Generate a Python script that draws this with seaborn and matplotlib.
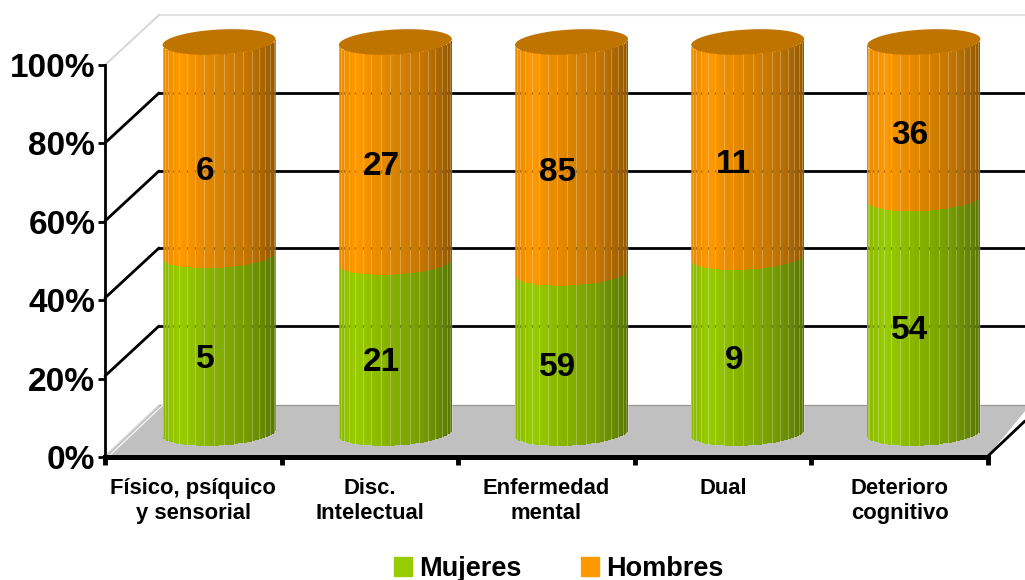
import numpy as np
import pandas as pd
import matplotlib.pyplot as plt
from matplotlib.patches import Patch, Polygon
import seaborn as sns

# Data
categories = ["Físico, psíquico\ny sensorial", "Disc.\nIntelectual", "Enfermedad\nmental", "Dual", "Deterioro\ncognitivo"]
mujeres = [5, 21, 59, 9, 54]
hombres = [6, 27, 85, 11, 36]
y_ticks = [0, 20, 40, 60, 80, 100]
y_tick_labels = ["0%", "20%", "40%", "60%", "80%", "100%"]

GREEN = np.array([0x99, 0xCC, 0x00]) / 255
ORANGE = np.array([0xFF, 0x99, 0x00]) / 255
W, H = 1025, 580

sns.set_theme(style="white")
plt.rcParams["font.family"] = ["Liberation Sans", "DejaVu Sans"]
plt.rcParams["font.weight"] = "bold"

df = pd.DataFrame({"cat": categories, "m": mujeres, "h": hombres})
df["pct_m"] = df["m"] / (df["m"] + df["h"]) * 100
df["total"] = 100.0


def axes_from_px(fig, x0, x1, y_bottom, y_top, **kw):
    return fig.add_axes([x0 / W, 1 - y_bottom / H, (x1 - x0) / W, (y_bottom - y_top) / H], **kw)


fig = plt.figure(figsize=(W / 100, H / 100), dpi=100)

# Back wall, floor and the slanted lines, in pixel coordinates
bg = fig.add_axes([0, 0, 1, 1], zorder=0)
bg.set_xlim(0, W)
bg.set_ylim(H, 0)
bg.axis("off")
bg.add_patch(Polygon([(105, 456), (159, 405), (1030, 405), (988, 456)], color="#C0C0C0", lw=0))
bg.plot([159, 1025], [405, 405], color="#9a9a9a", lw=1)
bg.plot([159, 1025], [15, 15], color="#E2E2E2", lw=1.5)
bg.plot([105, 159], [65, 15], color="#D8D8D8", lw=1.5)
bg.plot([109, 163], [456, 405], color="#FFFFFF", lw=0.8)
bg.plot([105, 159], [456, 405], color="#D8D8D8", lw=1)
for y in [93, 171, 248, 326]:
    bg.plot([159, 1025], [y, y], color="black", lw=2)
    bg.plot([105, 159], [y + 50, y], color="black", lw=2)
bg.plot([988, 1025], [456, 421], color="black", lw=2)

# Front axes with ticks and labels
front = axes_from_px(fig, 105, 988, 457, 65, zorder=1)
front.patch.set_alpha(0)
front.set_xlim(0, 5)
front.set_ylim(0, 100)
front.set_yticks(y_ticks)
front.set_yticklabels(y_tick_labels, fontsize=24, fontweight="bold")
front.set_xticks(range(6))
front.set_xticklabels([])
front.set_xticks(np.arange(5) + 0.5, labels=categories, minor=True)
front.tick_params(axis="x", which="major", length=6, width=3.5, color="black", bottom=True)
front.tick_params(axis="x", which="minor", length=0, pad=15, labelsize=15.8)
front.tick_params(axis="y", length=5, width=2, color="black", pad=2, left=True)
for lab in front.get_xticklabels(minor=True):
    lab.set_fontweight("bold")
    lab.set_linespacing(1.25)
    lab.set_color("black")
for lab in front.get_yticklabels():
    lab.set_color("black")
sns.despine(ax=front)
front.spines["left"].set_linewidth(2)
front.spines["left"].set_color("black")
front.spines["bottom"].set_linewidth(3.6)
front.spines["bottom"].set_color("black")

# Axes for the cylinders: y=0 at pixel 433, y=100 at pixel 42
ax = axes_from_px(fig, 131, 1012, 433, 42, zorder=2)
ax.patch.set_alpha(0)
BAR_W = 113 / 176.2
PX = 100 / 391
DEPTH = 12.5 * PX
TILT = 3 * PX

sns.barplot(data=df, x="cat", y="total", color=ORANGE, width=BAR_W * 0.8, saturation=1, ax=ax)
sns.barplot(data=df, x="cat", y="pct_m", color=GREEN, width=BAR_W * 0.8, saturation=1, ax=ax)

# Facets of each cylinder
edges = np.cos(np.linspace(np.pi, 0, 37))
mids = (edges[:-1] + edges[1:]) / 2
shade = np.interp(mids, [-1, -0.7, -0.1, 0.5, 1], [0.9, 1.0, 0.87, 0.76, 0.58])


def lower_arc(dx):
    return -DEPTH * np.sqrt(np.clip(1 - dx**2, 0, 1)) + TILT * dx


for i, pct in enumerate(df["pct_m"]):
    half = BAR_W / 2
    for e0, e1, dx, s in zip(edges[:-1], edges[1:], mids, shade):
        off = lower_arc(dx)
        x0 = i + e0 * half
        w = (e1 - e0) * half
        ax.bar(x0, pct, width=w, bottom=off, align="edge", color=GREEN * s, lw=0, zorder=3, clip_on=False)
        ax.bar(x0, 100 - pct, width=w, bottom=pct + off, align="edge", color=ORANGE * s, lw=0, zorder=3, clip_on=False)
    # thin light streaks with the wall grid showing through
    for dx in edges[1:-1:2]:
        off = lower_arc(dx)
        ax.plot([i + dx * half] * 2, [off, 100 + off], color="white", alpha=0.28, lw=0.7, zorder=4, clip_on=False)
        for y in [93, 171, 248, 326]:
            level = (433 - y) * PX
            ax.plot([i + dx * half] * 2, [level - 0.3, level + 0.3], color="black", alpha=0.35, lw=0.8, zorder=4)
    # top cap
    t = np.linspace(0, 2 * np.pi, 120)
    cx, cy = np.cos(t), np.sin(t)
    ax.fill(i + cx * half, 100 + DEPTH * cy + TILT * cx, color="#C07400", lw=0, zorder=5, clip_on=False)

    # Value labels
    for val, mid in [(mujeres[i], pct / 2), (hombres[i], pct + (100 - pct) / 2)]:
        dy = -23 if val == 6 else -15
        ax.annotate(str(val), (i, mid), xytext=(-14, dy), textcoords="offset pixels",
                    ha="center", va="center", fontsize=24, fontweight="bold", color="black", zorder=6)

ax.set_xlim(-0.5, 4.5)
ax.set_ylim(0, 100)
ax.axis("off")

handles = [Patch(color=GREEN, label="Mujeres"), Patch(color=ORANGE, label="Hombres")]
fig.legend(handles=handles, loc="center", bbox_to_anchor=(558.5 / W, 1 - 569 / H), ncol=2, frameon=False,
           handlelength=0.67, handleheight=0.67, handletextpad=0.26, columnspacing=2.18,
           labelcolor="black", prop={"weight": "bold", "size": 19.5})

fig.savefig("out.png", dpi=100)
